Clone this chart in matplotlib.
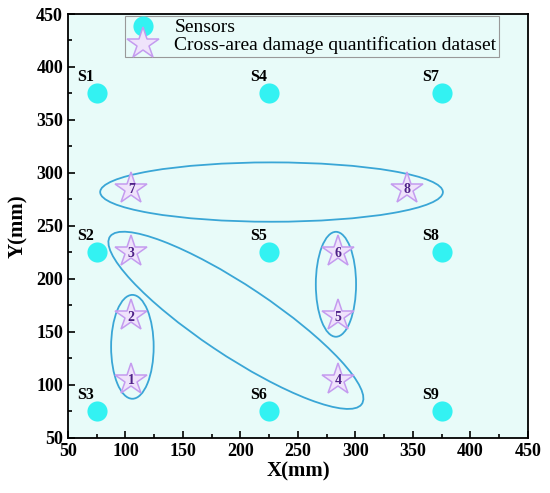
import matplotlib.pyplot as plt
from matplotlib.patches import Ellipse

# sensores
sensor_x = [75, 75, 75, 225, 225, 225, 375, 375, 375]
sensor_y = [375, 225, 75, 375, 225, 75, 375, 225, 75]
sensor_names = ['S1', 'S2', 'S3', 'S4', 'S5', 'S6', 'S7', 'S8', 'S9']

# puntos de daño
dano_x = [105, 105, 105, 285, 285, 285, 105, 345]
dano_y = [105, 165, 225, 105, 165, 225, 285, 285]
dano_ids = ['1', '2', '3', '4', '5', '6', '7', '8']

# elipses: centro x, centro y, ancho, alto, angulo
elip_cx = [106, 283, 227, 196]
elip_cy = [136, 195, 282, 161]
elip_w = [37, 35, 298, 270]
elip_h = [98, 99, 56, 65]
elip_ang = [0, 0, 0, -36]

plt.rcParams['font.family'] = ['Liberation Serif', 'DejaVu Serif']

fig = plt.figure(figsize=(5.5, 4.93), dpi=100)
ax = fig.add_axes([0.1236, 0.1116, 0.8364, 0.86])
ax.set_facecolor('#E8FBF9')

ax.plot(sensor_x, sensor_y, 'o', color='#33F2F2', markersize=14.5, markeredgewidth=0,
        label='Sensors', zorder=3)
ax.plot(dano_x, dano_y, '*', markersize=24, markerfacecolor='#EFE3FB',
        markeredgecolor='#C49BEF', markeredgewidth=1.1,
        label='Cross-area damage quantification dataset', zorder=3)

for x, y, s in zip(sensor_x, sensor_y, sensor_names):
    ax.annotate(s, (x, y), xytext=(-8, 12), textcoords='offset points',
                ha='center', va='center', fontsize=11.5, fontweight='bold')

for x, y, s in zip(dano_x, dano_y, dano_ids):
    ax.text(x, y - 1, s, ha='center', va='center', fontsize=10, fontweight='bold',
            color='#4F2288', zorder=4)

for cx, cy, w, h, a in zip(elip_cx, elip_cy, elip_w, elip_h, elip_ang):
    ax.add_patch(Ellipse((cx, cy), w, h, angle=a, fill=False, edgecolor='#3AA6D6',
                         linewidth=1.3, zorder=2))

ax.set_xlim(50, 450)
ax.set_ylim(50, 450)
ax.set_xticks(range(50, 451, 50))
ax.set_yticks(range(50, 451, 50))
ax.set_xticks(range(75, 450, 50), minor=True)
ax.set_yticks(range(75, 450, 50), minor=True)
ax.tick_params(which='both', direction='in', top=False, right=False, width=1.2)
ax.tick_params(which='major', length=5, labelsize=13)
ax.tick_params(which='minor', length=3)
for lab in ax.get_xticklabels() + ax.get_yticklabels():
    lab.set_fontweight('bold')
for sp in ax.spines.values():
    sp.set_linewidth(1.3)

ax.set_xlabel('X(mm)', fontsize=15, fontweight='bold', labelpad=1)
ax.set_ylabel('Y(mm)', fontsize=15, fontweight='bold', labelpad=6)

leg = ax.legend(loc='upper left', bbox_to_anchor=(0.119, 1.0), fontsize=14,
                fancybox=False, edgecolor='#999999', facecolor='#E8FBF9',
                framealpha=1, borderpad=0.15, handletextpad=0.8, labelspacing=0.0,
                borderaxespad=0.1, handlelength=1.6)
leg.get_frame().set_linewidth(0.8)

fig.savefig('out.png', dpi=100)
